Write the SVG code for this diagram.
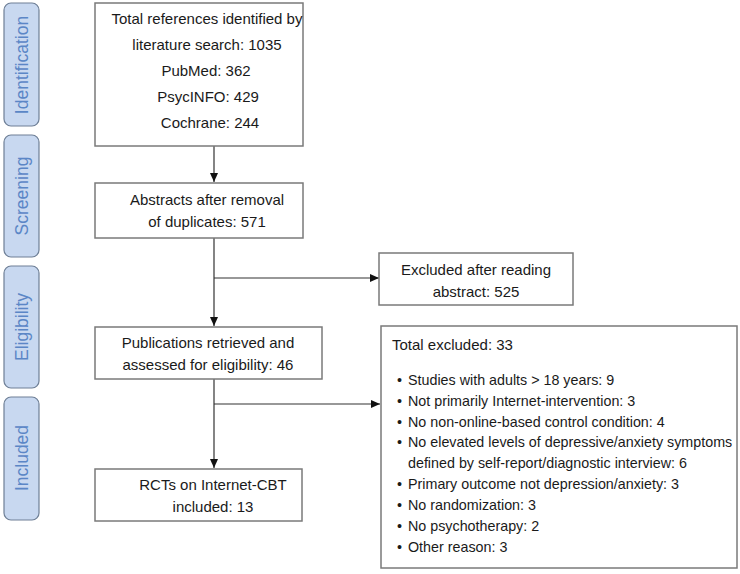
<svg xmlns="http://www.w3.org/2000/svg" width="740" height="574" viewBox="0 0 740 574">
<style>
.side{fill:#c8d8f0;stroke:#6e7f96;stroke-width:1.2}
.stxt{font-family:"Liberation Sans",Arial,sans-serif;font-size:17.5px;fill:#5b86c6;text-anchor:middle}
.box{fill:#fff;stroke:#7a7a7a;stroke-width:1.5}
.t{font-family:"Liberation Sans",Arial,sans-serif;font-size:15px;fill:#1a1a1a;text-anchor:middle}
.l{font-family:"Liberation Sans",Arial,sans-serif;font-size:14.3px;fill:#1a1a1a}
.h{font-family:"Liberation Sans",Arial,sans-serif;font-size:15px;fill:#1a1a1a}
.c{fill:none;stroke:#333;stroke-width:1.2}
</style>
<defs>
<marker id="ah" markerWidth="10" markerHeight="10" refX="9" refY="5" orient="auto" markerUnits="userSpaceOnUse">
<path d="M0,1 L9,5 L0,9 Z" fill="#111"/>
</marker>
</defs>
<g id="stage-identification"><rect class="side" x="4" y="3" width="35" height="123" rx="7"/><text class="stxt" transform="translate(27.5,65) rotate(-90)">Identification</text></g>
<g id="stage-screening"><rect class="side" x="4" y="135" width="35" height="122" rx="7"/><text class="stxt" transform="translate(27.5,196) rotate(-90)">Screening</text></g>
<g id="stage-eligibility"><rect class="side" x="4" y="266" width="35" height="122" rx="7"/><text class="stxt" transform="translate(27.5,327) rotate(-90)">Eligibility</text></g>
<g id="stage-included"><rect class="side" x="4" y="397" width="35" height="123" rx="7"/><text class="stxt" transform="translate(27.5,458) rotate(-90)">Included</text></g>

<g id="connectors">
<line class="c" x1="214" y1="146" x2="214" y2="182" marker-end="url(#ah)"/>
<line class="c" x1="214" y1="238" x2="214" y2="326" marker-end="url(#ah)"/>
<line class="c" x1="214" y1="278" x2="379" y2="278" marker-end="url(#ah)"/>
<line class="c" x1="214" y1="379" x2="214" y2="468" marker-end="url(#ah)"/>
<line class="c" x1="214" y1="404" x2="380" y2="404" marker-end="url(#ah)"/>
</g>

<g id="n-total"><rect class="box" x="95" y="3" width="208" height="143"/>
<text class="t" x="207" y="24">Total references identified by</text>
<text class="t" x="207" y="50">literature search: 1035</text>
<text class="t" x="206" y="76">PubMed: 362</text>
<text class="t" x="208" y="102">PsycINFO: 429</text>
<text class="t" x="210" y="128">Cochrane: 244</text></g>

<g id="n-abstracts"><rect class="box" x="95" y="183" width="208" height="55"/>
<text class="t" x="207" y="205">Abstracts after removal</text>
<text class="t" x="207" y="227">of duplicates: 571</text></g>

<g id="n-excl-abstract"><rect class="box" x="379" y="253" width="194" height="52"/>
<text class="t" x="476" y="275">Excluded after reading</text>
<text class="t" x="476" y="297">abstract: 525</text></g>

<g id="n-publications"><rect class="box" x="95" y="327" width="227" height="52"/>
<text class="t" x="208" y="348">Publications retrieved and</text>
<text class="t" x="208" y="370">assessed for eligibility: 46</text></g>

<g id="n-total-excluded"><rect class="box" x="381" y="326" width="356" height="242"/>
<text class="h" x="392" y="350">Total excluded: 33</text>
<g class="l">
<text x="397" y="385">•</text><text x="408" y="385">Studies with adults &gt; 18 years: 9</text>
<text x="397" y="406">•</text><text x="408" y="406">Not primarily Internet-intervention: 3</text>
<text x="397" y="427">•</text><text x="408" y="427">No non-online-based control condition: 4</text>
<text x="397" y="447">•</text><text x="408" y="447">No elevated levels of depressive/anxiety symptoms</text>
<text x="408" y="468">defined by self-report/diagnostic interview: 6</text>
<text x="397" y="489">•</text><text x="408" y="489">Primary outcome not depression/anxiety: 3</text>
<text x="397" y="510">•</text><text x="408" y="510">No randomization: 3</text>
<text x="397" y="531">•</text><text x="408" y="531">No psychotherapy: 2</text>
<text x="397" y="552">•</text><text x="408" y="552">Other reason: 3</text>
</g></g>

<g id="n-rcts"><rect class="box" x="95" y="469" width="207" height="52"/>
<text class="t" x="213" y="490">RCTs on Internet-CBT</text>
<text class="t" x="213" y="512">included: 13</text></g>
</svg>
